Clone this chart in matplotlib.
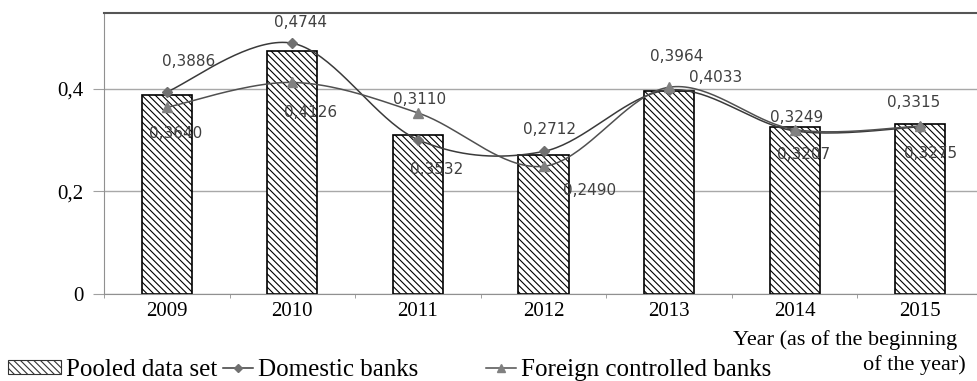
import matplotlib
matplotlib.use("Agg")
import matplotlib.pyplot as plt
from matplotlib.patches import Patch
from matplotlib.lines import Line2D
import numpy as np

# values
years = ['2009', '2010', '2011', '2012', '2013', '2014', '2015']
pooled = [0.3886, 0.4744, 0.3110, 0.2712, 0.3964, 0.3249, 0.3315]
domestic = [0.394, 0.489, 0.301, 0.278, 0.398, 0.318, 0.326]
foreign = [0.3640, 0.4126, 0.3532, 0.2490, 0.4033, 0.3207, 0.3275]

# label offsets in pixels (dx, dy), upper labels from bar top, lower from foreign marker
upper_off = [(22, 33), (8, 28), (2, 35), (6, 25), (8, 34), (2, 10), (-7, 22)]
lower_off = [(9, -26), (18, -30), (19, -57), (46, -24), (47, 10), (9, -25), (10, -27)]

serif = 'Liberation Serif'


def smooth(xs, ys, n=40):
    # Catmull-Rom, like the smoothed lines of a spreadsheet chart
    xs = np.asarray(xs, float)
    ys = np.asarray(ys, float)
    pts = np.column_stack([xs, ys])
    out = []
    for i in range(len(pts) - 1):
        p0 = pts[i - 1] if i > 0 else pts[i]
        p1 = pts[i]
        p2 = pts[i + 1]
        p3 = pts[i + 2] if i + 2 < len(pts) else pts[i + 1]
        c1 = p1 + (p2 - p0) / 6
        c2 = p2 - (p3 - p1) / 6
        t = np.linspace(0, 1, n)[:, None]
        seg = ((1 - t) ** 3) * p1 + 3 * ((1 - t) ** 2) * t * c1 + 3 * (1 - t) * t ** 2 * c2 + t ** 3 * p2
        out.append(seg if i == 0 else seg[1:])
    out = np.vstack(out)
    return out[:, 0], out[:, 1]


plt.rcParams['hatch.linewidth'] = 0.8
fig = plt.figure(figsize=(9.77, 3.81), dpi=100)
ax = fig.add_axes([104 / 977, 1 - 294 / 381, 879 / 977, 281 / 381])

x = np.arange(len(years))
ax.bar(x, pooled, width=0.40, color='white', edgecolor='black', hatch='\\' * 5,
       linewidth=1.2, zorder=2)

sx, sy = smooth(x, domestic)
ax.plot(sx, sy, color='#3a3a3a', lw=1.1, zorder=3)
ax.plot(x, domestic, ls='none', marker='D', ms=5, color='#707070', zorder=4)
fx, fy = smooth(x, foreign)
ax.plot(fx, fy, color='#505050', lw=1.1, zorder=3)
ax.plot(x, foreign, ls='none', marker='^', ms=7, color='#808080', zorder=4)

for i in range(len(years)):
    ax.annotate(f'{pooled[i]:.4f}'.replace('.', ','), (x[i], pooled[i]),
                xytext=upper_off[i], textcoords='offset pixels',
                ha='center', va='center', fontsize=11, color='#404040', zorder=5)
    ax.annotate(f'{foreign[i]:.4f}'.replace('.', ','), (x[i], foreign[i]),
                xytext=lower_off[i], textcoords='offset pixels',
                ha='center', va='center', fontsize=11, color='#404040', zorder=5)

ax.set_xlim(-0.5, 6.5)
ax.set_ylim(0, 0.548)
ax.set_yticks([0, 0.2, 0.4])
ax.set_yticklabels(['0', '0,2', '0,4'], fontfamily=serif, fontsize=15)
ax.set_xticks(x)
ax.set_xticklabels(years, fontfamily=serif, fontsize=15)
ax.set_xticks(np.arange(-0.5, 7, 1), minor=True)
ax.tick_params(axis='x', which='major', length=0, pad=6)
ax.tick_params(axis='x', which='minor', length=3, color='#909090')
ax.tick_params(axis='y', length=8, color='#a0a0a0', pad=6.5)
ax.yaxis.grid(True, color='#a8a8a8', lw=1.0)
ax.set_axisbelow(True)
for s in ['left', 'bottom']:
    ax.spines[s].set_color('#909090')
ax.spines['top'].set_color('#555555')
ax.spines['top'].set_linewidth(1.5)
ax.spines['right'].set_visible(False)

fig.text(733 / 977, 1 - 340 / 381, 'Year (as of the beginning', fontfamily=serif,
         fontsize=16, ha='left', va='center')
fig.text(863 / 977, 1 - 365 / 381, 'of the year)', fontfamily=serif,
         fontsize=16, ha='left', va='center')

leg_y = 1 - 370 / 381
h1 = Patch(facecolor='white', edgecolor='#333333', hatch='\\' * 5, lw=0.8)
h2 = Line2D([], [], color='#3a3a3a', lw=1.1, marker='D', ms=4, mfc='#707070', mec='#707070')
h3 = Line2D([], [], color='#505050', lw=1.1, marker='^', ms=6, mfc='#808080', mec='#808080')
for h, lab, x0, hl in [(h1, 'Pooled data set', 8, 2.1),
                       (h2, 'Domestic banks', 223, 1.2),
                       (h3, 'Foreign controlled banks', 486, 1.2)]:
    fig.legend([h], [lab], loc='center left', bbox_to_anchor=(x0 / 977, leg_y),
               frameon=False, borderpad=0, borderaxespad=0, handlelength=hl,
               handleheight=0.5, handletextpad=0.2,
               prop={'family': serif, 'size': 18})

fig.savefig('out.png', dpi=100)
